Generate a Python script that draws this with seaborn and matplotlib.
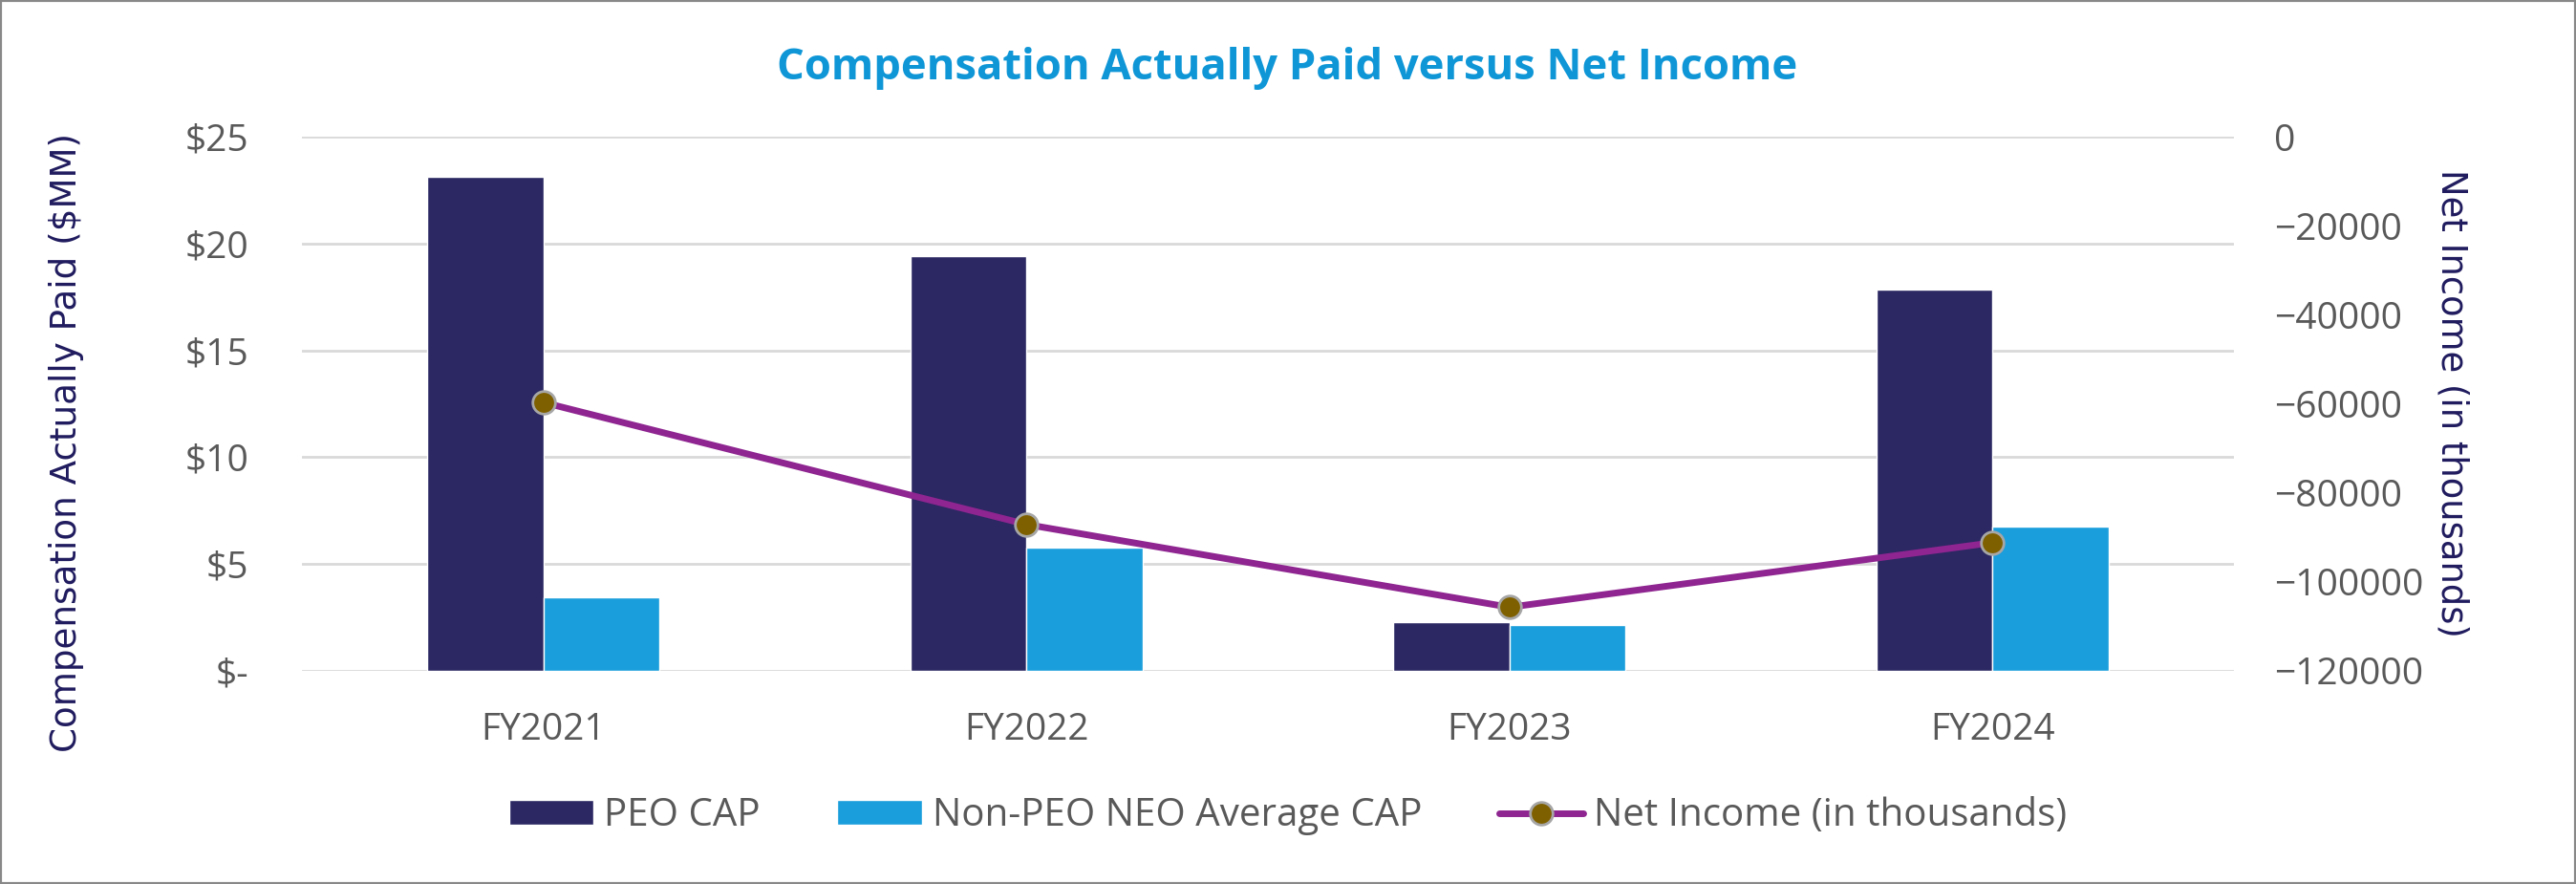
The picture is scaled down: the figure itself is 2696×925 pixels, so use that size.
import numpy as np
import pandas as pd
import matplotlib
matplotlib.use("Agg")
import matplotlib.pyplot as plt
import seaborn as sns
from matplotlib.patches import Patch, Rectangle
from matplotlib.lines import Line2D

# Dati
years = ["FY2021", "FY2022", "FY2023", "FY2024"]
peo_cap = [23.1, 19.4, 2.28, 17.84]
non_peo_cap = [3.45, 5.77, 2.14, 6.75]
net_income = [-59700, -87100, -105700, -91200]

series_names = ["PEO CAP", "Non-PEO NEO Average CAP"]
line_name = "Net Income (in thousands)"

c_peo = "#2B2863"
c_non = "#1A9EDC"
c_line = "#8E2590"
c_marker = "#7F6000"
c_text = "#595959"
c_navy = "#1F1B5E"
c_title = "#0E96D7"

df = pd.DataFrame({
    "year": years * 2,
    "value": peo_cap + non_peo_cap,
    "series": [series_names[0]] * len(years) + [series_names[1]] * len(years),
})

sns.set_style("white")
plt.rcParams["font.family"] = ["Open Sans", "DejaVu Sans"]

fig = plt.figure(figsize=(26.96, 9.25), dpi=100)
ax = fig.add_axes([316 / 2696, 1 - 702 / 925, (2338 - 316) / 2696, (702 - 143) / 925])

sns.barplot(data=df, x="year", y="value", hue="series", order=years,
            hue_order=series_names, palette=[c_peo, c_non], width=0.48,
            saturation=1, ax=ax, legend=False, zorder=2)

ax.set_ylim(0, 25)
ax.set_xlim(-0.5, len(years) - 0.5)
ax.set_yticks([0, 5, 10, 15, 20, 25])
ax.set_yticklabels(["$-", "$5", "$10", "$15", "$20", "$25"])
ax.yaxis.grid(True, color="#D9D9D9", lw=2)
ax.set_axisbelow(True)
for s in ax.spines.values():
    s.set_visible(False)
ax.tick_params(axis="y", length=0, pad=40, labelsize=28, labelcolor=c_text)
ax.tick_params(axis="x", length=0, pad=31, labelsize=28, labelcolor=c_text)
ax.set_xlabel("")
ax.set_ylabel("Compensation Actually Paid ($MM)", fontsize=26.8, color=c_navy,
              family="DejaVu Sans")
ax.yaxis.set_label_coords(-0.1128, 0.428)

ax2 = ax.twinx()
x_pos = np.arange(len(years))
sns.lineplot(x=x_pos, y=net_income, ax=ax2, color=c_line, lw=5, marker="o",
             markersize=17, markerfacecolor=c_marker, markeredgecolor="#A6A6A6",
             markeredgewidth=2, zorder=5)
ax2.set_ylim(-120000, 0)
ax2.set_yticks(np.arange(-120000, 1, 20000))
for s in ax2.spines.values():
    s.set_visible(False)
ax2.tick_params(axis="y", length=0, pad=30, labelsize=28, labelcolor=c_text)
ax2.set_ylabel("Net Income (in thousands)", fontsize=26.6, color=c_navy,
               family="DejaVu Sans", rotation=270)
ax2.yaxis.set_label_coords(1.122, 0.501)

fig.suptitle("Compensation Actually Paid versus Net Income", x=(812 + 1883) / 2 / 2696,
             y=1 - 72 / 925, va="center", fontsize=32.7, fontweight="bold", color=c_title)

handles = [
    Patch(facecolor=c_peo, label=series_names[0]),
    Patch(facecolor=c_non, label=series_names[1]),
    Line2D([0], [0], color=c_line, lw=5, marker="o", markersize=17,
           markerfacecolor=c_marker, markeredgecolor="#A6A6A6", markeredgewidth=2,
           label=line_name),
]
leg = fig.legend(handles=handles, loc="center", bbox_to_anchor=(0.5, 1 - 854 / 925),
                 ncol=3, frameon=False, fontsize=29, handlelength=2.2,
                 handleheight=0.63, handletextpad=0.27, columnspacing=2.0)
for t in leg.get_texts():
    t.set_color(c_text)

fig.patches.append(Rectangle((0, 0), 1, 1, transform=fig.transFigure, fill=False,
                             edgecolor="#888888", lw=3))

fig.savefig("out.png", dpi=100)
